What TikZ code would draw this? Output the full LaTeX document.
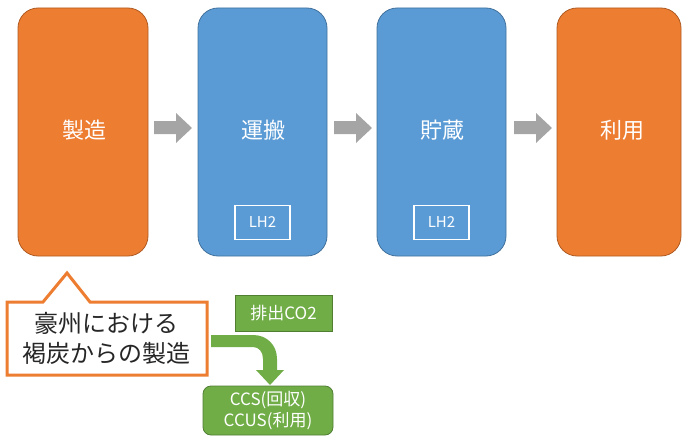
\documentclass[tikz,border=0pt]{standalone}
\usepackage{fontspec}
\setmainfont{Noto Sans CJK JP}
\begin{document}
\begin{tikzpicture}[x=1pt,y=-1pt,
  stage/.style={rounded corners=20pt, line width=0.8pt},
  stagetext/.style={text=white, font=\fontsize{22}{26}\selectfont},
  orangebox/.style={stage, fill=orangefill, draw=orangeline},
  bluebox/.style={stage, fill=bluefill, draw=blueline},
  lhbox/.style={draw=white, line width=1.5pt, text=white, font=\fontsize{15}{17}\selectfont, minimum width=55pt, minimum height=34pt, inner sep=0pt},
  grayarrow/.style={fill=arrowgray, draw=none},
  greenbox/.style={fill=greenfill, draw=greenline, line width=0.8pt, text=white, inner sep=0pt}
]
\definecolor{orangefill}{HTML}{ED7D31}
\definecolor{orangeline}{HTML}{AE5A21}
\definecolor{bluefill}{HTML}{5B9BD5}
\definecolor{blueline}{HTML}{41719C}
\definecolor{greenfill}{HTML}{70AD47}
\definecolor{greenline}{HTML}{507E32}
\definecolor{arrowgray}{HTML}{A5A5A5}
\definecolor{textdark}{HTML}{262626}
\useasboundingbox (0,0) rectangle (683,436);

% stage boxes
\draw[orangebox] (18,8) rectangle (148,256);
\node[stagetext] (s1) at (84,130) {製造};
\draw[bluebox] (198,8) rectangle (327,256);
\node[stagetext] (s2) at (263,130) {運搬};
\draw[bluebox] (377,8) rectangle (506,256);
\node[stagetext] (s3) at (442,130) {貯蔵};
\draw[orangebox] (557,8) rectangle (681,256);
\node[stagetext] (s4) at (622,130) {利用};

% LH2 boxes
\node[lhbox] (lh1) at (262.5,222.5) {LH2};
\node[lhbox] (lh2) at (441.5,222.5) {LH2};

% gray block arrows
\foreach \x in {154,334,514}{
  \fill[grayarrow] (\x,121) -- (\x+22,121) -- (\x+22,113) -- (\x+38,128) -- (\x+22,143) -- (\x+22,134) -- (\x,134) -- cycle;
}

% callout
\draw[orangefill, line width=3pt, fill=white, line join=miter]
  (7,302) -- (43,302) -- (67,273) -- (90,302) -- (207,302) -- (207,375) -- (7,375) -- cycle;
\node[text=textdark, align=center, font=\fontsize{24}{30}\selectfont] (callout) at (107,338.5) {豪州における\\褐炭からの製造};

% green: emission box
\node[greenbox, minimum width=97pt, minimum height=36pt, font=\fontsize{17}{20}\selectfont] (co2) at (283.5,313) {排出CO2};

% bent arrow
\fill[greenfill] (211,335) -- (253,335) .. controls (267,335) and (277,345) .. (277,359)
  -- (277,370) -- (284,370) -- (270,385) -- (256,370) -- (263,370) -- (263,359)
  .. controls (263,352) and (259,347) .. (253,347) -- (211,347) -- cycle;

% CCS box
\node[greenbox, rounded corners=8pt, minimum width=130pt, minimum height=49pt, align=center, font=\fontsize{17}{21}\selectfont] (ccs) at (268,410.5) {CCS(回収)\\CCUS(利用)};
\end{tikzpicture}
\end{document}
